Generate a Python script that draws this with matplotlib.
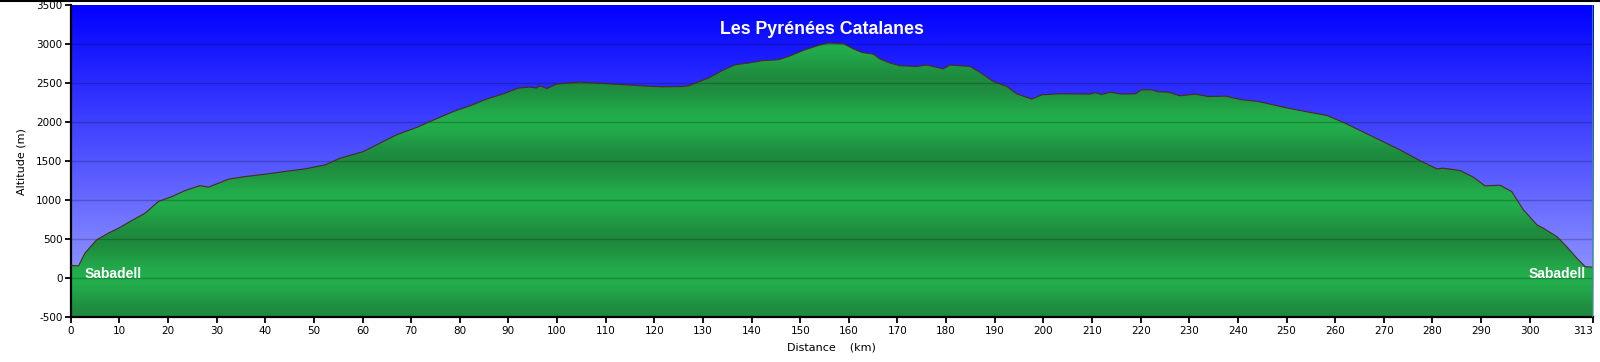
import numpy as np
import matplotlib
matplotlib.use("Agg")
import matplotlib.pyplot as plt
from matplotlib.patches import Polygon

# ---- data ----
km = [0, 0.2, 1.6, 2.9, 5.3, 7.7, 9.8, 12.5, 15.3, 18, 20.8, 23.5, 26.6, 28.3, 30.4,
      32.4, 35.8, 40, 44, 48.2, 52.3, 55.4, 60.2, 63.6, 67, 71.1, 73.9, 78.7, 82.1, 85.5,
      89, 92, 94.4, 95.7, 96.5, 97.9, 99.9, 102, 104.7, 110.5, 117.4, 121.5, 125.6, 127,
      128.4, 131.1, 133.9, 136.6, 139.3, 142.1, 145.5, 147.6, 151, 153.7, 155.8, 158.9,
      161, 162.7, 165, 166.4, 168.5, 170.5, 174, 176, 179.4, 180.8, 184.9, 187, 189.7,
      192.5, 194.5, 197.6, 199.7, 203.4, 209.6, 210.6, 212, 213.7, 216.1, 218.9, 220.2,
      222.3, 223.6, 225.7, 228.1, 231.2, 233.9, 237.4, 240.8, 244.2, 249.7, 253.8, 258.3,
      262, 267.9, 273.3, 277.5, 280.9, 282.2, 285.7, 288.4, 290.8, 293.9, 296.3, 298.7,
      301.5, 302.8, 305.6, 307.6, 309.7, 311.4, 313]
alt = [170, 165, 158, 320, 490, 577, 640, 738, 833, 982, 1046, 1123, 1187, 1167, 1218,
       1269, 1302, 1333, 1367, 1401, 1452, 1538, 1623, 1731, 1837, 1931, 2008, 2136, 2209, 2295,
       2363, 2436, 2449, 2436, 2465, 2431, 2487, 2500, 2513, 2491, 2465, 2452, 2456, 2465,
       2500, 2564, 2658, 2734, 2756, 2786, 2799, 2841, 2927, 2982, 3013, 3004,
       2936, 2892, 2871, 2808, 2756, 2722, 2713, 2731, 2683, 2731, 2713, 2636, 2521,
       2456, 2363, 2295, 2350, 2363, 2359, 2379, 2354, 2384, 2359, 2363, 2414,
       2414, 2388, 2384, 2337, 2359, 2328, 2333, 2286, 2264, 2187, 2136, 2085,
       1987, 1808, 1645, 1504, 1401, 1410, 1380, 1295, 1183, 1192, 1110, 876,
       683, 641, 533, 405, 256, 149, 141]
xticks = [0, 10, 20, 30, 40, 50, 60, 70, 80, 90, 100, 110, 120, 130, 140, 150, 160, 170,
          180, 190, 200, 210, 220, 230, 240, 250, 260, 270, 280, 290, 300, 313]
yticks = [-500, 0, 500, 1000, 1500, 2000, 2500, 3000, 3500]
title = "Les Pyrénées Catalanes"
start_label = "Sabadell"
end_label = "Sabadell"

XMIN, XMAX = 0, 313
YMIN, YMAX = -500, 3500

fig = plt.figure(figsize=(16, 3.62), dpi=100)
fig.patch.set_facecolor("white")
ax = fig.add_axes([0.0442, 0.1235, 0.9514, 0.8627])
ax.set_xlim(XMIN, XMAX)
ax.set_ylim(YMIN, YMAX)

# sky gradient
ys = np.linspace(YMAX, YMIN, 400)
t = (YMAX - ys) / (YMAX - YMIN)
top = np.array([0, 0, 255]) / 255
bot = np.array([165, 170, 255]) / 255
sky = top[None, :] * (1 - t[:, None]) + bot[None, :] * t[:, None]
ax.imshow(sky[:, None, :], extent=[XMIN, XMAX, YMIN, YMAX], aspect="auto",
          origin="upper", zorder=0, interpolation="bilinear")

# green fill gradient
light = np.array([35, 174, 76]) / 255
dark = np.array([30, 138, 62]) / 255
ya = np.linspace(YMAX, YMIN, 800)
w = (1 - np.cos(2 * np.pi * ya / 1000.0)) / 2
green = light[None, :] * (1 - w[:, None]) + dark[None, :] * w[:, None]
im = ax.imshow(green[:, None, :], extent=[XMIN, XMAX, YMIN, YMAX], aspect="auto",
               origin="upper", zorder=1, interpolation="bilinear")
verts = [(km[0], YMIN)] + list(zip(km, alt)) + [(km[-1], YMIN)]
poly = Polygon(verts, closed=True, facecolor="none", edgecolor="none", transform=ax.transData)
ax.add_patch(poly)
im.set_clip_path(poly)
ax.plot(km, alt, color="#4a2a22", lw=0.8, zorder=3)
# right edge line of the profile
ax.axvline(XMAX, color="#22aa44", lw=1.2, zorder=4)

# grid
for yv in yticks[1:-1]:
    ax.axhline(yv, color="black", alpha=0.22, lw=1.0, zorder=2)

ax.set_xticks(xticks)
ax.set_xticklabels([str(v) for v in xticks])
ax.set_yticks(yticks)
ax.set_yticklabels([str(v) for v in yticks])
ax.tick_params(axis="both", labelsize=7.5, length=4, width=1.3, color="black", pad=2)
last = ax.get_xticklabels()[-1]
last.set_horizontalalignment("right")
for s in ["top", "right"]:
    ax.spines[s].set_visible(False)
for s in ["left", "bottom"]:
    ax.spines[s].set_linewidth(1.6)

ax.set_xlabel("Distance    (km)", fontsize=8, labelpad=5)
ax.set_ylabel("Altitude (m)", fontsize=8, labelpad=7)

ax.text(0.5 * (XMIN + XMAX) - 2, 3180, title, color="white", fontsize=12.8,
        fontweight="bold", family="Liberation Sans", ha="center", va="center", zorder=5)
ax.text(2.8, 55, start_label, color="white", fontsize=10, fontweight="bold",
        family="Liberation Sans", ha="left", va="center", zorder=5)
ax.text(311.5, 55, end_label, color="white", fontsize=10, fontweight="bold",
        family="Liberation Sans", ha="right", va="center", zorder=5)

# top border line
fig.add_artist(plt.Line2D([0, 1], [0.997, 0.997], transform=fig.transFigure,
                          color="black", lw=1.5))

fig.savefig("out.png", dpi=100)
